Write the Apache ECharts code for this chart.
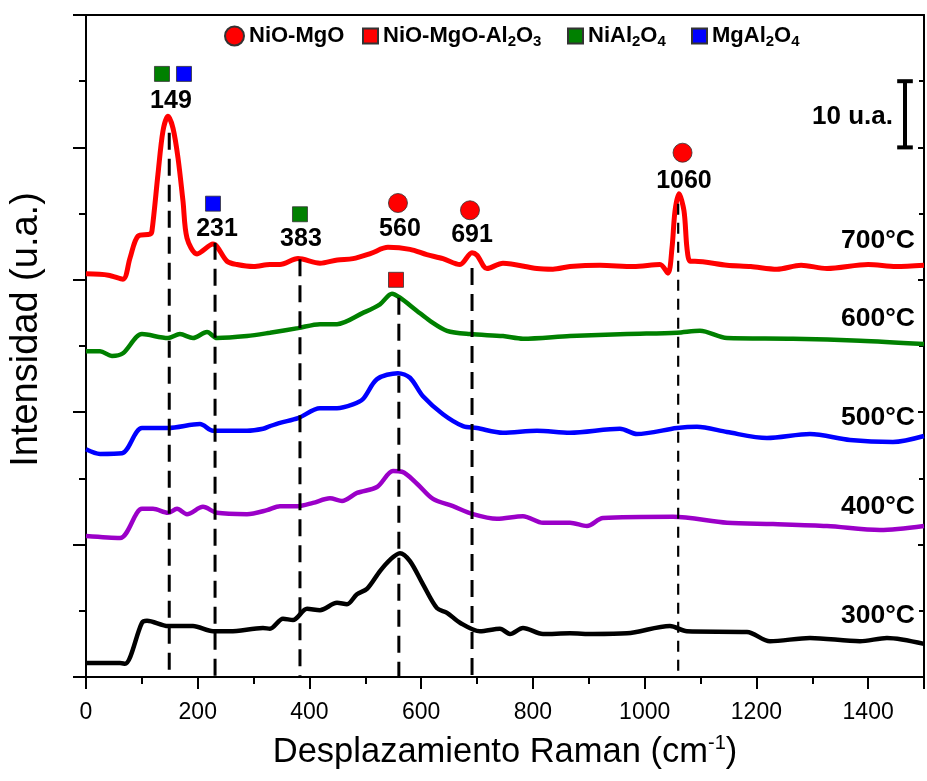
<!DOCTYPE html>
<html>
<head>
<meta charset="utf-8">
<script src="https://cdn.jsdelivr.net/npm/echarts@6/dist/echarts.min.js"></script>
<style>html,body{margin:0;padding:0;background:#fff}#c{width:927px;height:781px}</style>
</head>
<body>
<div id="c"></div>
<script>
const FONT = "'Liberation Sans', Arial, Helvetica, sans-serif";

// ---- Spectra (x: Raman shift cm-1, y: intensity u.a., offset stacked) ----
const s700 = [[0,60.9],[40,60.7],[66.2,60.1],[78.8,63.3],[93.1,66.6],[114.6,66.9],[118.1,67.4],[128.9,76.0],[137.8,82.5],[146.8,84.7],[155.7,82.9],[164.7,78.4],[173.6,71.9],[180.8,66.3],[198.7,63.9],[227.3,65.4],[252.4,62.8],[270.3,62.3],[300,62.0],[329.3,62.3],[347.2,62.3],[379.5,63.2],[418.8,62.5],[450,63.0],[477.9,63.2],[510,64.0],[540.5,64.9],[579.9,64.6],[610,63.8],[639.0,63.2],[669.4,62.3],[690.9,64.1],[700,63.7],[717.7,61.7],[746.4,62.5],[807.2,61.7],[835.9,61.6],[866.3,62.0],[920,62.2],[980,62.0],[1027.4,62.3],[1041.7,61.0],[1048.9,64.8],[1054.3,70.4],[1061.4,73.0],[1070.4,70.4],[1075.7,64.8],[1081.1,62.8],[1090,62.8],[1147.3,62.2],[1190,62.0],[1236.8,61.6],[1280,62.2],[1326.3,61.7],[1400,62.3],[1450,62.0],[1500,62.2]];
const s600 = [[0,49.2],[25.1,49.2],[46.5,48.5],[66.2,48.9],[100.2,51.8],[146.8,51.2],[168.2,51.8],[191.5,51.2],[216.6,52.1],[234.5,51.2],[288.2,51.5],[329.3,52.0],[379.5,52.7],[418.8,53.3],[449.3,53.3],[495.8,55.0],[526.2,56.3],[547.7,57.9],[562.0,57.3],[592.5,55.3],[615.7,53.8],[646.2,52.3],[687.3,51.8],[746.4,51.5],[782.2,51.1],[866.3,51.5],[968.3,51.8],[1057.8,52.0],[1099.0,52.3],[1147.3,51.2],[1265.5,51.1],[1385.4,50.8],[1500,50.3]];
const s500 = [[0,34.4],[25.1,33.7],[64.4,33.8],[100.2,37.6],[146.8,37.6],[204.0,38.2],[227.3,37.2],[288.2,37.2],[316.8,37.5],[329.3,37.9],[347.2,38.4],[379.5,39.1],[418.8,40.6],[449.3,40.6],[477.9,41.2],[495.8,42.0],[520.9,45.0],[558.4,45.9],[579.9,45.2],[603.2,42.4],[639.0,39.7],[674.8,37.9],[699.9,37.6],[746.4,36.9],[807.2,37.2],[866.3,36.9],[955.8,37.5],[986.2,36.7],[1057.8,37.6],[1093.6,37.8],[1147.3,37.0],[1218.9,36.1],[1295.9,36.7],[1367.5,35.8],[1444.4,35.5],[1500,36.4]];
const s400 = [[0,21.3],[60.9,21.0],[100.2,25.4],[119.9,25.4],[146.8,24.8],[162.9,25.4],[180.8,24.6],[209.4,25.7],[234.5,24.8],[288.2,24.6],[324.0,25.2],[347.2,25.8],[379.5,25.8],[406.3,26.3],[436.7,27.0],[458.2,26.6],[485.0,27.8],[520.9,28.7],[549.5,31.1],[565.6,31.0],[592.5,29.2],[621.1,26.9],[656.9,25.8],[692.7,24.6],[735.6,23.9],[782.2,24.3],[818.0,23.3],[866.3,23.3],[896.7,22.8],[925.4,24.0],[1050.7,24.2],[1147.3,23.3],[1229.7,23.1],[1326.3,22.8],[1421.2,22.2],[1500,22.8]];
const s300 = [[0,2.1],[60.9,2.1],[69.8,2.0],[100.2,8.2],[109.2,8.5],[146.8,7.7],[191.5,7.7],[227.3,6.9],[257.7,6.9],[316.8,7.4],[329.3,7.3],[352.6,8.8],[370.5,8.6],[395.6,10.3],[418.8,10.1],[449.3,11.2],[467.2,11.0],[485.0,12.5],[502.9,13.3],[526.2,16.0],[544.1,17.7],[562.0,18.7],[579.9,17.5],[603.2,14.0],[628.2,10.4],[646.2,9.7],[669.4,8.2],[705.2,6.9],[741.0,7.3],[758.9,6.5],[782.2,7.4],[818.0,6.5],[866.3,6.6],[907.5,6.5],[968.3,6.6],[1045.3,7.7],[1075.7,6.9],[1183.1,6.8],[1224.3,5.4],[1295.9,5.9],[1385.4,5.4],[1433.7,5.9],[1500,5.0]];

const tempNames = ['700°C','600°C','500°C','400°C','300°C'];
const tempColors = ['#ff0000','#008000','#0000ff','#9b00c8','#000000'];
const tempWidths = [5,4.5,4.5,4.5,4.5];
const spectra = [s700,s600,s500,s400,s300];
const tempLabelX = 1483.8;
const tempLabelY = [65.9,54.2,39.1,25.8,9.2];

// ---- Phase markers ----
const compoundNames = ['NiO-MgO','NiO-MgO-Al2O3','NiAl2O4','MgAl2O4'];
const compoundColors = ['#ff0000','#ff0000','#008000','#0000ff'];
const compoundSymbols = ['circle','rect','rect','rect'];
const nioMgoPts = [[558.4,71.6],[687.3,70.5],[1067.8,79.2]];
const nioMgoAlPts = [[554.9,60.0]];
const niAlPts = [[136.0,91.1],[383.0,69.9]];
const mgAlPts = [[175.4,91.1],[227.3,71.5]];
const compoundPts = [nioMgoPts,nioMgoAlPts,niAlPts,mgAlPts];
const legendLeft = [224,362,567,691];

// ---- Peak annotations ----
const peakShifts = [149,231,383,560,691,1060];
const peakLabelX = [152.1,234.5,384.8,562,690.9,1070.3];
const peakLabelY = [87.0,67.7,66.2,67.7,66.8,74.9];
const dashTop = [82.2,65.6,63.1,57.3,61.8,71.5];

// ---- Scale bar (10 u.a.) ----
const barX = 1466, barCapL = 1452, barCapR = 1480, barLow = 80, barHigh = 90;
const barLabel = '10 u.a.';
const barLabelPos = [1444.4,84.6];

function richName(name){
  return name.replace(/(\D+)|(\d)/g, (m,a,d) => a ? '{b|'+a+'}' : '{s|'+d+'}');
}

const series = [];
spectra.forEach((d,i)=>{
  series.push({type:'line', name:tempNames[i], data:d, showSymbol:false, symbol:'none', smooth:0.3,
    lineStyle:{color:tempColors[i], width:tempWidths[i]}, z:2, silent:true});
});
peakShifts.forEach((p,i)=>{
  series.push({type:'line', data:[[p,dashTop[i]],[p,0]], showSymbol:false, symbol:'none', z:3,
    lineStyle: i===5 ? {color:'#000', width:2.2, type:[11,8]} : {color:'#000', width:3, type:[17,9]}});
});
compoundNames.forEach((n,i)=>{
  series.push({type:'scatter', name:n, data:compoundPts[i], symbol:compoundSymbols[i],
    symbolSize: compoundSymbols[i]==='circle' ? 19 : 15, z:5,
    itemStyle:{color:compoundColors[i], borderColor:'#333', borderWidth:0.8, opacity:1}});
});
const textLabel = (size, pos) => ({show:true, position:pos, distance:0, formatter:p=>p.name, color:'#000',
  fontFamily:FONT, fontWeight:'bold', fontSize:size, textBorderWidth:0, opacity:1});
// peak number labels
series.push({type:'scatter', data:peakShifts.map((p,i)=>({value:[peakLabelX[i],peakLabelY[i]], name:String(p)})),
  symbolSize:0, itemStyle:{color:'#000'}, z:6, label:textLabel(25,'inside')});
// temperature labels
series.push({type:'scatter', data:tempNames.map((t,i)=>({value:[tempLabelX,tempLabelY[i]], name:t})),
  symbolSize:0, itemStyle:{color:'#000'}, z:6, label:textLabel(26.5,'left')});
// scale bar
[[[barCapL,barHigh],[barCapR,barHigh]],[[barX,barHigh],[barX,barLow]],[[barCapL,barLow],[barCapR,barLow]]].forEach(seg=>{
  series.push({type:'line', data:seg, showSymbol:false, symbol:'none', z:4, lineStyle:{color:'#000', width:4, cap:'butt'}});
});
series.push({type:'scatter', data:[{value:barLabelPos, name:barLabel}], symbolSize:0, itemStyle:{color:'#000'}, z:6,
  label:textLabel(26,'left')});

const legendRich = {
  b:{fontFamily:FONT, fontSize:22, fontWeight:'bold', color:'#000', lineHeight:26},
  s:{fontFamily:FONT, fontSize:15, fontWeight:'bold', color:'#000', lineHeight:10, verticalAlign:'bottom'}
};

const legends = compoundNames.map((n,i)=>({
  data:[{name:n, icon:compoundSymbols[i]}], left:legendLeft[i], top:25, padding:0, itemGap:0,
  itemWidth: compoundSymbols[i]==='circle'?19:15, itemHeight: compoundSymbols[i]==='circle'?19:15,
  selectedMode:false, formatter: nm=>richName(nm), textStyle:{rich:legendRich}
}));

const axisLineStyle = {color:'#000', width:2};
const option = {
  animation:false,
  backgroundColor:'#fff',
  grid:{left:86, right:3, top:15, bottom:104, containLabel:false},
  legend: legends,
  xAxis:[{
    type:'value', min:0, max:1500, interval:200, position:'bottom',
    axisLine:{show:true, onZero:false, lineStyle:axisLineStyle},
    axisTick:{show:true, inside:false, length:12, lineStyle:axisLineStyle},
    minorTick:{show:true, splitNumber:2, length:7, lineStyle:axisLineStyle},
    splitLine:{show:false},
    axisLabel:{show:true, showMaxLabel:false, margin:24, color:'#000', fontFamily:FONT, fontSize:23, formatter:v=>String(v)},
    name:'{a|Desplazamiento Raman (cm}{s|-1}{a|)}', nameLocation:'middle', nameGap:56,
    nameTextStyle:{rich:{a:{fontFamily:FONT, fontSize:34.5, color:'#000', lineHeight:38},
                          s:{fontFamily:FONT, fontSize:20, color:'#000', lineHeight:22, verticalAlign:'top'}}}
  },{
    type:'value', min:0, max:1500, position:'top',
    axisLine:{show:true, onZero:false, lineStyle:axisLineStyle},
    axisTick:{show:false}, axisLabel:{show:false}, splitLine:{show:false}
  }],
  yAxis:[{
    type:'value', min:0, max:100, interval:20, position:'left',
    axisLine:{show:true, onZero:false, lineStyle:axisLineStyle},
    axisTick:{show:true, inside:false, length:13, lineStyle:axisLineStyle},
    minorTick:{show:true, splitNumber:2, length:7, lineStyle:axisLineStyle},
    splitLine:{show:false}, axisLabel:{show:false},
    name:'Intensidad (u.a.)', nameLocation:'middle', nameGap:40,
    nameTextStyle:{fontFamily:FONT, fontSize:38, color:'#000', padding:[0,0,0,33]}
  },{
    type:'value', min:0, max:100, interval:20, position:'right',
    axisLine:{show:true, onZero:false, lineStyle:axisLineStyle},
    axisTick:{show:true, inside:true, length:6, lineStyle:axisLineStyle},
    minorTick:{show:true, splitNumber:2, length:5, lineStyle:axisLineStyle},
    splitLine:{show:false}, axisLabel:{show:false}
  }],
  series: series
};
const chart = echarts.init(document.getElementById('c'), null, {renderer:'canvas'});
chart.setOption(option);
</script>
</body>
</html>
